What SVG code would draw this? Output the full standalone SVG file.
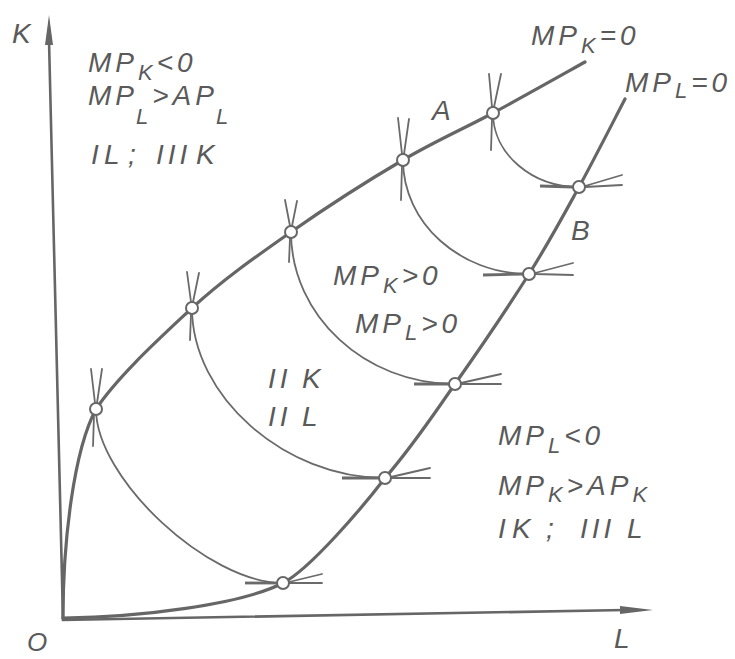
<svg xmlns="http://www.w3.org/2000/svg" width="735" height="659" viewBox="0 0 735 659">
<style>
.axis{stroke:#666;stroke-width:2.6;fill:none}
.ridge{stroke:#666;stroke-width:3.2;fill:none;stroke-linecap:round}
.iso{stroke:#6a6a6a;stroke-width:1.8;fill:none}
.tick{stroke:#6a6a6a;stroke-width:1.8;fill:none;stroke-linecap:round}
.stub{stroke:#6a6a6a;stroke-width:2.8;fill:none}
.pt{fill:#fff;stroke:#666;stroke-width:2}
.arr{fill:#666}
text{font-family:"Liberation Sans","DejaVu Sans",sans-serif;font-style:italic;font-size:28px;fill:#5a5a5a;letter-spacing:4px}
.sub{font-size:22px}
</style>
<rect width="735" height="659" fill="#fff"/>
<g id="axes">
<path class="axis" d="M49,40 L63,620 L625,610"/>
<polygon class="arr" points="49,15 45,45 53,45"/>
<polygon class="arr" points="653,610 620,606 620,614"/>
<text x="12" y="43">K</text>
<text x="27" y="651" style="font-size:26px">O</text>
<text x="614" y="648">L</text>
</g>
<g id="connectors">
<path id="ridge-K" class="ridge" d="M63,618 C63,540 74,450 96,409 C118,376 160,338 192,308 C224.5,278.5 255.8,256.7 291,232 C326.2,207.3 369.3,179.8 403,160 C436.7,140.2 462.7,129.3 493,113 C523.3,96.7 569.7,70.5 585,62"/>
<path id="ridge-L" class="ridge" d="M63,618 C140,617 240,605 283,583 C310,569 362,508 385,478 C413.7,444.8 431,418 455,384 C479,350 508.3,306.8 529,274 C549.7,241.2 563,216.2 579,187 C595,157.8 617.3,113.7 625,99"/>
<path class="iso" d="M96,409 C96,478.6 208.2,583 283,583"/>
<path class="iso" d="M192,308 C192,396.4 284.6,478 385,478"/>
<path class="iso" d="M291,232 C291,315.6 364.8,384 455,384"/>
<path class="iso" d="M403,160 C403,222.7 459.7,274 529,274"/>
<path class="iso" d="M493,113 C493,153.7 531.7,187 579,187"/>
</g>
<g id="node-u1"><path class="tick" d="M95,403 L91,369 M97,403 L102,369 M94,415 L93,446"/><circle class="pt" cx="96" cy="409" r="6"/></g>
<g id="node-u2"><path class="tick" d="M191,302 L187,272 M193,302 L199,273 M191,314 L190,340"/><circle class="pt" cx="192" cy="308" r="6"/></g>
<g id="node-u3"><path class="tick" d="M290,226 L285,200 M292,226 L297,201 M290,238 L289,262"/><circle class="pt" cx="291" cy="232" r="6"/></g>
<g id="node-u4"><path class="tick" d="M402,154 L398,118 M404,154 L409,119 M402,166 L401,200"/><circle class="pt" cx="403" cy="160" r="6"/></g>
<g id="node-u5"><path class="tick" d="M492,107 L489,74 M494,107 L501,74 M492,119 L491,150"/><circle class="pt" cx="493" cy="113" r="6"/></g>
<g id="node-l1"><path class="stub" d="M245,583 L277,583"/><path class="tick" d="M289,582 L322,574 M289,583 L322,583"/><circle class="pt" cx="283" cy="583" r="6"/></g>
<g id="node-l2"><path class="stub" d="M342,478 L379,478"/><path class="tick" d="M391,477 L430,468 M391,478 L430,478"/><circle class="pt" cx="385" cy="478" r="6"/></g>
<g id="node-l3"><path class="stub" d="M414,384 L449,384"/><path class="tick" d="M461,383 L501,374 M461,384 L501,384"/><circle class="pt" cx="455" cy="384" r="6"/></g>
<g id="node-l4"><path class="stub" d="M483,275 L523,274"/><path class="tick" d="M535,273 L573,263 M535,274 L573,275"/><circle class="pt" cx="529" cy="274" r="6"/></g>
<g id="node-l5"><path class="stub" d="M540,186 L573,187"/><path class="tick" d="M585,186 L622,175 M585,187 L622,185"/><circle class="pt" cx="579" cy="187" r="6"/></g>
<g id="labels">
<text x="88" y="72">MP<tspan class="sub" dy="8">K</tspan><tspan dy="-8">&lt;0</tspan></text>
<text x="88" y="105">MP<tspan class="sub" dx="-2" dy="19">L</tspan><tspan dy="-19">&gt;AP</tspan><tspan class="sub" dx="-2" dy="19">L</tspan></text>
<text y="164"><tspan x="91">I</tspan><tspan x="104">L</tspan><tspan x="128">;</tspan><tspan x="156">III</tspan><tspan x="196">K</tspan></text>
<text x="531" y="45">MP<tspan class="sub" dy="8">K</tspan><tspan dy="-8">=0</tspan></text>
<text x="625" y="92">MP<tspan class="sub" dy="6">L</tspan><tspan dy="-6">=0</tspan></text>
<text x="432" y="120">A</text>
<text x="571" y="240">B</text>
<text x="333" y="285">MP<tspan class="sub" dy="8">K</tspan><tspan dy="-8">&gt;0</tspan></text>
<text x="355" y="333">MP<tspan class="sub" dy="7">L</tspan><tspan dy="-7">&gt;0</tspan></text>
<text y="388"><tspan x="268">II</tspan><tspan x="302">K</tspan></text>
<text y="426"><tspan x="268">II</tspan><tspan x="302">L</tspan></text>
<text x="498" y="445">MP<tspan class="sub" dy="8">L</tspan><tspan dy="-8">&lt;0</tspan></text>
<text x="498" y="495">MP<tspan class="sub" dy="7">K</tspan><tspan dy="-7">&gt;AP</tspan><tspan class="sub" dy="7">K</tspan></text>
<text y="538"><tspan x="498">I</tspan><tspan x="512">K</tspan><tspan x="546">;</tspan><tspan x="580">III</tspan><tspan x="627">L</tspan></text>
</g>
</svg>
